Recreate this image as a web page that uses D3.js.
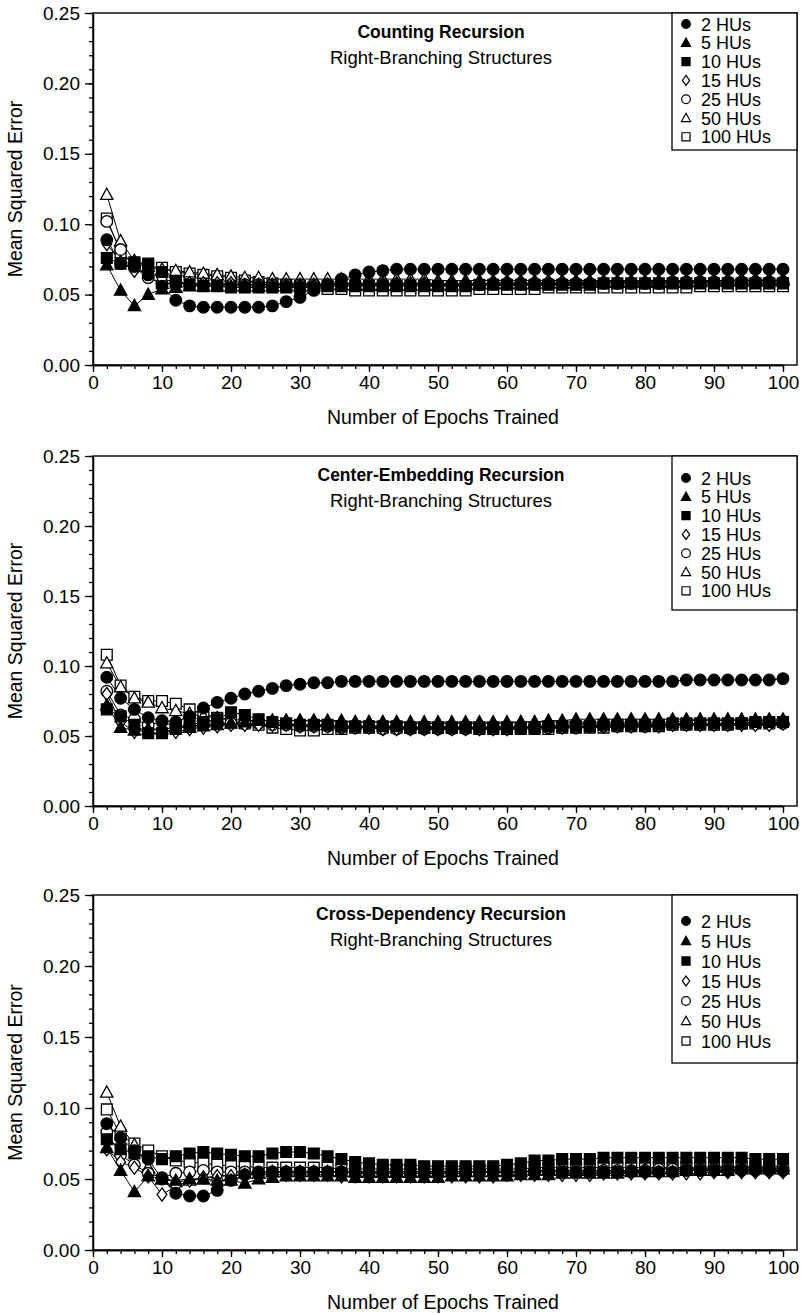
<!DOCTYPE html>
<html lang="en">
<head>
<meta charset="utf-8">
<title>Mean Squared Error by Epochs Trained</title>
<script src="https://d3js.org/d3.v7.min.js"></script>
<style>
  body { margin: 0; background: white; }
  svg { display: block; font-family: "Liberation Sans", Arial, sans-serif; }
  .axis path, .axis line { stroke: black; stroke-width: 1.3px; }
  .axis text { font-size: 19px; fill: black; font-family: "Liberation Sans", Arial, sans-serif; }
  .title { font-size: 17.5px; font-weight: bold; }
  .subtitle { font-size: 18.5px; }
  .legend-text { font-size: 18px; }
  .axis-label { font-size: 19.5px; }
</style>
</head>
<body>
<div id="chart"></div>
<script>
// epochs on the x axis
var epochs = [2,4,6,8,10,12,14,16,18,20,22,24,26,28,30,32,34,36,38,40,42,44,46,48,50,
              52,54,56,58,60,62,64,66,68,70,72,74,76,78,80,82,84,86,88,90,92,94,96,98,100];

var hiddenUnits = ["2 HUs", "5 HUs", "10 HUs", "15 HUs", "25 HUs", "50 HUs", "100 HUs"];

var xTicks = [0,10,20,30,40,50,60,70,80,90,100];
var yTicks = [0.00,0.05,0.10,0.15,0.20,0.25];

var panelTitles = ["Counting Recursion", "Center-Embedding Recursion", "Cross-Dependency Recursion"];
var panelSubtitle = "Right-Branching Structures";

// Counting recursion
var counting2   = [0.089,0.072,0.070,0.064,0.056,0.046,0.042,0.041,0.041,0.041,0.041,0.041,0.042,0.045,0.048,0.053,0.057,0.061,0.064,0.066,0.067,0.068,0.068,0.068,0.068,0.068,0.068,0.068,0.068,0.068,0.068,0.068,0.068,0.068,0.068,0.068,0.068,0.068,0.068,0.068,0.068,0.068,0.068,0.068,0.068,0.068,0.068,0.068,0.068,0.068];
var counting5   = [0.071,0.053,0.042,0.050,0.054,0.055,0.056,0.056,0.056,0.056,0.056,0.056,0.056,0.056,0.056,0.056,0.057,0.057,0.057,0.057,0.057,0.057,0.057,0.057,0.057,0.057,0.058,0.058,0.058,0.058,0.058,0.058,0.058,0.058,0.058,0.059,0.059,0.059,0.059,0.059,0.059,0.059,0.059,0.059,0.060,0.060,0.060,0.060,0.060,0.060];
var counting10  = [0.076,0.072,0.073,0.072,0.066,0.059,0.057,0.056,0.056,0.055,0.055,0.055,0.055,0.055,0.055,0.055,0.056,0.056,0.056,0.056,0.056,0.056,0.056,0.056,0.056,0.056,0.056,0.057,0.057,0.057,0.057,0.057,0.057,0.057,0.057,0.057,0.058,0.058,0.058,0.058,0.058,0.058,0.058,0.058,0.058,0.058,0.058,0.058,0.058,0.058];
var counting15  = [0.086,0.073,0.067,0.066,0.061,0.059,0.058,0.058,0.058,0.058,0.057,0.057,0.057,0.057,0.057,0.057,0.057,0.058,0.058,0.058,0.058,0.058,0.058,0.058,0.058,0.058,0.058,0.058,0.058,0.058,0.058,0.058,0.059,0.059,0.059,0.059,0.059,0.059,0.059,0.059,0.059,0.059,0.059,0.060,0.060,0.060,0.060,0.060,0.060,0.060];
var counting25  = [0.102,0.082,0.069,0.062,0.058,0.058,0.057,0.057,0.057,0.057,0.057,0.057,0.057,0.057,0.057,0.057,0.057,0.057,0.057,0.057,0.057,0.057,0.057,0.057,0.057,0.057,0.057,0.057,0.058,0.058,0.058,0.058,0.058,0.058,0.058,0.058,0.058,0.058,0.058,0.058,0.058,0.059,0.059,0.059,0.059,0.059,0.059,0.059,0.059,0.059];
var counting50  = [0.121,0.088,0.074,0.070,0.068,0.067,0.066,0.065,0.064,0.063,0.062,0.062,0.061,0.061,0.061,0.061,0.061,0.061,0.061,0.061,0.061,0.061,0.061,0.061,0.060,0.060,0.060,0.060,0.060,0.060,0.060,0.060,0.060,0.060,0.060,0.060,0.060,0.060,0.060,0.060,0.060,0.060,0.060,0.060,0.060,0.060,0.061,0.061,0.061,0.061];
var counting100 = [0.104,0.080,0.072,0.070,0.069,0.066,0.065,0.064,0.063,0.062,0.060,0.059,0.058,0.057,0.056,0.055,0.054,0.054,0.053,0.053,0.053,0.053,0.053,0.053,0.053,0.053,0.053,0.054,0.054,0.054,0.054,0.054,0.055,0.055,0.055,0.055,0.055,0.055,0.055,0.055,0.055,0.055,0.055,0.056,0.056,0.056,0.056,0.056,0.056,0.056];

// Center-embedding recursion
var center2   = [0.092,0.077,0.069,0.063,0.061,0.060,0.064,0.070,0.074,0.077,0.080,0.082,0.084,0.086,0.087,0.088,0.088,0.089,0.089,0.089,0.089,0.089,0.089,0.089,0.089,0.089,0.089,0.089,0.089,0.089,0.089,0.089,0.089,0.089,0.089,0.089,0.089,0.089,0.089,0.089,0.089,0.089,0.090,0.090,0.090,0.090,0.090,0.090,0.090,0.091];
var center5   = [0.072,0.056,0.054,0.055,0.055,0.056,0.056,0.057,0.058,0.059,0.060,0.061,0.061,0.061,0.061,0.061,0.061,0.061,0.060,0.060,0.060,0.060,0.059,0.059,0.059,0.059,0.059,0.059,0.059,0.059,0.060,0.060,0.061,0.061,0.062,0.062,0.062,0.062,0.062,0.062,0.062,0.062,0.062,0.062,0.062,0.062,0.062,0.062,0.062,0.062];
var center10  = [0.069,0.064,0.058,0.052,0.052,0.055,0.058,0.060,0.062,0.067,0.065,0.062,0.060,0.059,0.058,0.058,0.058,0.057,0.057,0.057,0.057,0.057,0.056,0.056,0.056,0.056,0.056,0.056,0.056,0.056,0.056,0.056,0.057,0.057,0.057,0.057,0.058,0.058,0.058,0.058,0.058,0.059,0.059,0.059,0.059,0.059,0.059,0.060,0.060,0.060];
var center15  = [0.080,0.060,0.053,0.054,0.055,0.053,0.055,0.056,0.057,0.058,0.058,0.058,0.058,0.058,0.057,0.057,0.057,0.056,0.056,0.056,0.055,0.055,0.055,0.055,0.055,0.055,0.055,0.055,0.055,0.055,0.056,0.056,0.056,0.056,0.056,0.057,0.057,0.057,0.057,0.057,0.057,0.058,0.058,0.058,0.058,0.058,0.058,0.058,0.058,0.059];
var center25  = [0.082,0.065,0.062,0.058,0.060,0.057,0.057,0.058,0.058,0.059,0.059,0.059,0.058,0.058,0.057,0.057,0.057,0.056,0.056,0.056,0.055,0.055,0.055,0.055,0.055,0.055,0.055,0.055,0.055,0.055,0.056,0.056,0.056,0.056,0.056,0.057,0.057,0.057,0.057,0.057,0.058,0.058,0.058,0.058,0.058,0.058,0.059,0.059,0.059,0.059];
var center50  = [0.102,0.085,0.077,0.074,0.070,0.068,0.066,0.064,0.063,0.062,0.061,0.061,0.061,0.061,0.061,0.061,0.060,0.060,0.060,0.060,0.060,0.060,0.060,0.060,0.060,0.060,0.060,0.060,0.060,0.060,0.060,0.060,0.060,0.060,0.060,0.060,0.060,0.060,0.060,0.060,0.060,0.060,0.061,0.061,0.061,0.061,0.061,0.061,0.061,0.061];
var center100 = [0.108,0.086,0.078,0.075,0.075,0.073,0.069,0.066,0.063,0.061,0.059,0.058,0.056,0.055,0.054,0.054,0.055,0.055,0.056,0.056,0.056,0.056,0.056,0.056,0.056,0.056,0.056,0.055,0.055,0.055,0.055,0.055,0.055,0.056,0.056,0.056,0.056,0.057,0.057,0.057,0.057,0.058,0.058,0.058,0.058,0.058,0.059,0.059,0.059,0.060];

// Cross-dependency recursion
var cross2   = [0.089,0.079,0.070,0.064,0.050,0.040,0.038,0.038,0.042,0.049,0.053,0.054,0.055,0.055,0.055,0.055,0.055,0.055,0.054,0.054,0.054,0.054,0.054,0.054,0.054,0.054,0.054,0.055,0.055,0.055,0.055,0.055,0.055,0.055,0.055,0.055,0.055,0.055,0.055,0.055,0.055,0.055,0.056,0.056,0.056,0.056,0.056,0.056,0.056,0.056];
var cross5   = [0.072,0.056,0.041,0.052,0.050,0.049,0.050,0.050,0.049,0.049,0.047,0.050,0.051,0.052,0.052,0.052,0.052,0.052,0.051,0.051,0.051,0.051,0.051,0.051,0.051,0.052,0.052,0.052,0.052,0.052,0.053,0.053,0.053,0.054,0.054,0.054,0.054,0.054,0.055,0.055,0.055,0.055,0.056,0.056,0.056,0.056,0.057,0.057,0.057,0.057];
var cross10  = [0.078,0.071,0.068,0.066,0.064,0.066,0.068,0.069,0.068,0.067,0.066,0.066,0.068,0.069,0.069,0.068,0.066,0.064,0.062,0.061,0.060,0.060,0.060,0.059,0.059,0.059,0.059,0.059,0.059,0.060,0.061,0.063,0.063,0.064,0.064,0.064,0.065,0.065,0.065,0.065,0.065,0.065,0.065,0.065,0.065,0.065,0.065,0.064,0.064,0.064];
var cross15  = [0.071,0.062,0.058,0.052,0.039,0.045,0.049,0.051,0.052,0.052,0.053,0.053,0.053,0.053,0.053,0.053,0.053,0.052,0.052,0.052,0.052,0.052,0.052,0.052,0.052,0.052,0.052,0.052,0.052,0.053,0.053,0.053,0.053,0.053,0.053,0.053,0.054,0.054,0.054,0.054,0.054,0.054,0.054,0.054,0.055,0.055,0.055,0.055,0.055,0.055];
var cross25  = [0.083,0.067,0.060,0.054,0.051,0.054,0.055,0.056,0.055,0.055,0.055,0.055,0.055,0.055,0.055,0.055,0.055,0.055,0.055,0.055,0.055,0.055,0.055,0.055,0.055,0.055,0.055,0.055,0.055,0.055,0.055,0.056,0.056,0.056,0.056,0.056,0.056,0.056,0.056,0.056,0.057,0.057,0.057,0.057,0.057,0.057,0.057,0.057,0.057,0.058];
var cross50  = [0.111,0.087,0.074,0.058,0.050,0.048,0.049,0.050,0.052,0.053,0.054,0.054,0.055,0.055,0.055,0.055,0.055,0.055,0.055,0.055,0.055,0.055,0.055,0.055,0.055,0.055,0.055,0.055,0.055,0.055,0.055,0.056,0.056,0.056,0.056,0.056,0.056,0.056,0.056,0.057,0.057,0.057,0.057,0.057,0.058,0.058,0.058,0.058,0.058,0.059];
var cross100 = [0.099,0.081,0.075,0.070,0.066,0.063,0.062,0.061,0.060,0.059,0.059,0.058,0.058,0.058,0.058,0.058,0.058,0.057,0.057,0.057,0.057,0.057,0.057,0.057,0.057,0.057,0.057,0.057,0.057,0.057,0.057,0.058,0.058,0.058,0.058,0.058,0.058,0.058,0.058,0.058,0.058,0.058,0.058,0.058,0.059,0.059,0.059,0.059,0.059,0.059];

var panelSeries = [
  [counting2, counting5, counting10, counting15, counting25, counting50, counting100],
  [center2, center5, center10, center15, center25, center50, center100],
  [cross2, cross5, cross10, cross15, cross25, cross50, cross100]
];

// marker style per hidden-unit count
var shapes = ["circle", "triangle", "square", "diamond", "circle", "triangle", "square"];
var filled = [true, true, true, false, false, false, false];

// vertical placement of the three panels (hardcoded to match the scan)
var panels = [
  {top: 13,  bottom: 365,  legFirst: 24,  legStep: 18.8, legBottom: 150},
  {top: 456, bottom: 806,  legFirst: 478, legStep: 18.8, legBottom: 610},
  {top: 895, bottom: 1250, legFirst: 921, legStep: 20,   legBottom: 1063}
];

var plotLeft = 93, plotRight = 797, legLeft = 672;

var svg = d3.select("#chart")
  .append("svg")
  .attr("width", 802)
  .attr("height", 1314);

var xScale = d3.scaleLinear().domain([0, 100]).range([plotLeft, 783]);

function markerPath(shape, s) {
  if (shape == "circle") {
    return "M" + (-s) + ",0A" + s + "," + s + " 0 1,0 " + s + ",0A" + s + "," + s + " 0 1,0 " + (-s) + ",0Z";
  } else if (shape == "square") {
    return "M" + (-s) + "," + (-s) + "H" + s + "V" + s + "H" + (-s) + "Z";
  } else if (shape == "triangle") {
    return "M0," + (-s * 1.15) + "L" + (s * 1.1) + "," + (s * 0.85) + "L" + (-s * 1.1) + "," + (s * 0.85) + "Z";
  } else {
    return "M0," + (-s * 1.3) + "L" + (s * 0.95) + ",0L0," + (s * 1.3) + "L" + (-s * 0.95) + ",0Z";
  }
}

var markerSize = {circle: 5.8, square: 5.4, triangle: 5.6, diamond: 5.1};

panels.forEach(function(p, pi) {
  var yScale = d3.scaleLinear().domain([0, 0.25]).range([p.bottom, p.top]);
  var g = svg.append("g");

  // frame
  g.append("rect")
    .attr("x", plotLeft).attr("y", p.top)
    .attr("width", plotRight - plotLeft).attr("height", p.bottom - p.top)
    .attr("fill", "none").attr("stroke", "black").attr("stroke-width", 1.4);

  // x axis major + minor
  g.append("g").attr("class", "axis")
    .attr("transform", "translate(0," + p.bottom + ")")
    .call(d3.axisBottom(xScale).tickValues(d3.range(0, 101, 2)).tickSize(4).tickSizeOuter(0).tickFormat(""));
  g.append("g").attr("class", "axis")
    .attr("transform", "translate(0," + p.bottom + ")")
    .call(d3.axisBottom(xScale).tickValues(xTicks).tickSize(7).tickSizeOuter(0).tickPadding(4));

  // y axis major + minor
  g.append("g").attr("class", "axis")
    .attr("transform", "translate(" + plotLeft + ",0)")
    .call(d3.axisLeft(yScale).tickValues(d3.range(0, 0.2501, 0.01)).tickSize(4).tickSizeOuter(0).tickFormat(""));
  g.append("g").attr("class", "axis")
    .attr("transform", "translate(" + plotLeft + ",0)")
    .call(d3.axisLeft(yScale).tickValues(yTicks).tickSize(8).tickSizeOuter(0).tickPadding(5).tickFormat(d3.format(".2f")));

  g.append("text")
    .attr("class", "axis-label")
    .attr("x", (plotLeft + 783) / 2 + 5)
    .attr("y", p.bottom + 59)
    .attr("text-anchor", "middle")
    .text("Number of Epochs Trained");

  g.append("text")
    .attr("class", "axis-label")
    .attr("transform", "translate(22," + ((p.top + p.bottom) / 2) + ") rotate(-90)")
    .attr("text-anchor", "middle")
    .text("Mean Squared Error");

  // titles
  g.append("text")
    .attr("class", "title")
    .attr("x", 441).attr("y", p.top + 25)
    .attr("text-anchor", "middle")
    .text(panelTitles[pi]);
  g.append("text")
    .attr("class", "subtitle")
    .attr("x", 441).attr("y", p.top + 51)
    .attr("text-anchor", "middle")
    .text(panelSubtitle);

  var line = d3.line()
    .x(function(d, i) { return xScale(epochs[i]); })
    .y(function(d) { return yScale(d); });

  var series = panelSeries[pi];

  // lines under all markers
  series.forEach(function(vals) {
    g.append("path")
      .datum(vals)
      .attr("d", line)
      .attr("fill", "none")
      .attr("stroke", "black")
      .attr("stroke-width", 1);
  });

  // markers, largest network first so filled ones sit on top
  for (var k = series.length - 1; k >= 0; k--) {
    g.append("g")
      .selectAll("path")
      .data(series[k])
      .enter()
      .append("path")
      .attr("transform", function(d, i) {
        return "translate(" + xScale(epochs[i]) + "," + yScale(d) + ")";
      })
      .attr("d", markerPath(shapes[k], markerSize[shapes[k]]))
      .attr("fill", filled[k] ? "black" : "white")
      .attr("stroke", "black")
      .attr("stroke-width", 1.3);
  }

  // legend
  var leg = g.append("g");
  leg.append("rect")
    .attr("x", legLeft).attr("y", p.top)
    .attr("width", plotRight - legLeft).attr("height", p.legBottom - p.top)
    .attr("fill", "white").attr("stroke", "black").attr("stroke-width", 1.3);

  var items = leg.selectAll("g.item")
    .data(hiddenUnits)
    .enter().append("g")
    .attr("class", "item")
    .attr("transform", function(d, i) { return "translate(0," + (p.legFirst + p.legStep * i) + ")"; });

  items.append("path")
    .attr("transform", "translate(686,0)")
    .attr("d", function(d, i) { return markerPath(shapes[i], markerSize[shapes[i]] * 0.75); })
    .attr("fill", function(d, i) { return filled[i] ? "black" : "white"; })
    .attr("stroke", "black")
    .attr("stroke-width", 1.2);

  items.append("text")
    .attr("class", "legend-text")
    .attr("x", 701)
    .attr("y", 6.5)
    .text(function(d) { return d; });
});
</script>
</body>
</html>
